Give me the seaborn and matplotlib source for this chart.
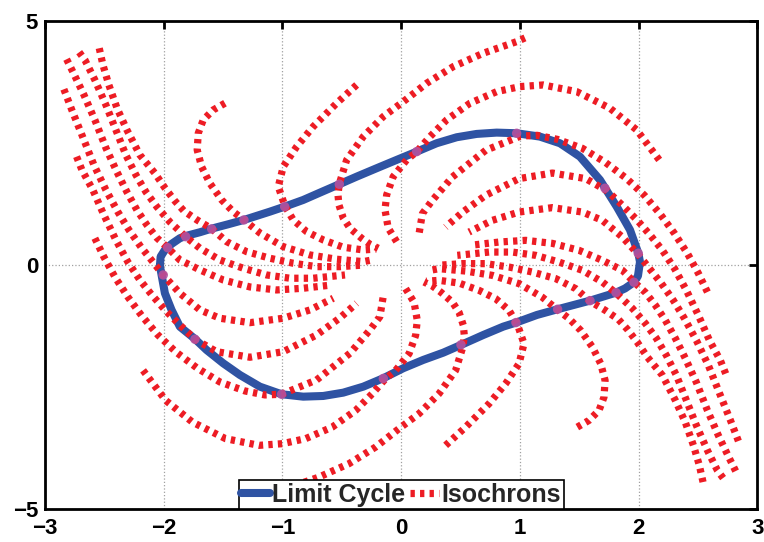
import matplotlib
matplotlib.use('Agg')
import matplotlib.pyplot as plt
import seaborn as sns
from matplotlib.lines import Line2D

# limit cycle (clockwise, closed)
cycle_x = [-2.032, -2.026, -1.990, -1.934, -1.864, -1.813, -1.695, -1.596, -1.460, -1.324,
           -1.105, -0.981, -0.825, -0.684, -0.521, -0.375, -0.206, -0.038, 0.131, 0.299,
           0.468, 0.636, 0.805, 0.973, 1.169, 1.338, 1.506, 1.675, 1.816, 1.928,
           1.998, 2.012, 1.995, 1.961, 1.886, 1.810, 1.591, 1.318, 1.144, 0.965,
           0.860, 0.692, 0.504, 0.355, 0.186, 0.018, -0.151, -0.319, -0.488, -0.656,
           -0.825, -1.007, -1.190, -1.358, -1.499, -1.639, -1.737, -1.864, -1.934, -1.990,
           -2.018, -2.032]
cycle_y = [-0.016, 0.174, 0.311, 0.434, 0.551, 0.598, 0.674, 0.748, 0.835, 0.926,
           1.096, 1.198, 1.335, 1.485, 1.657, 1.812, 1.985, 2.155, 2.324, 2.496,
           2.619, 2.687, 2.714, 2.701, 2.632, 2.496, 2.222, 1.745, 1.198, 0.721,
           0.244, 0.066, -0.221, -0.350, -0.477, -0.563, -0.727, -0.903, -1.020, -1.178,
           -1.259, -1.430, -1.634, -1.792, -1.941, -2.111, -2.316, -2.488, -2.611, -2.679,
           -2.693, -2.644, -2.488, -2.249, -2.009, -1.737, -1.511, -1.260, -0.917, -0.575,
           -0.201, -0.016]

# phase points where the isochrons meet the cycle
phase_x = [-1.967, -1.815, -1.596, -1.324, -0.981, -0.521, 0.131, 0.973, 1.717, 1.997,
           1.961, 1.810, 1.591, 1.318, 0.967, 0.504, -0.150, -1.007, -1.737, -2.004]
phase_y = [0.358, 0.583, 0.741, 0.926, 1.198, 1.657, 2.325, 2.700, 1.575, 0.244,
           -0.350, -0.563, -0.727, -0.903, -1.176, -1.630, -2.320, -2.644, -1.517, -0.201]

# isochrons
iso01_x = [-2.818, -2.765, -2.672, -2.580, -2.487, -2.394, -2.310, -2.226, -2.142, -2.057,
           -1.967, -1.864, -1.695, -1.499, -1.274, -1.049, -0.825, -0.583]
iso01_y = [4.217, 3.957, 3.486, 2.974, 2.400, 1.909, 1.499, 1.131, 0.823, 0.557,
           0.358, 0.106, -0.098, -0.303, -0.446, -0.508, -0.473, -0.406]
iso02_x = [-2.712, -2.664, -2.580, -2.487, -2.403, -2.319, -2.234, -2.150, -2.057, -1.948,
           -1.816, -1.695, -1.527, -1.330, -1.133, -0.937, -0.741, -0.473]
iso02_y = [4.360, 4.203, 3.793, 3.281, 2.769, 2.257, 1.847, 1.499, 1.192, 0.885,
           0.584, 0.346, 0.106, -0.063, -0.201, -0.268, -0.268, -0.201]
iso03_x = [-2.543, -2.512, -2.462, -2.394, -2.310, -2.201, -2.074, -1.990, -1.906, -1.830,
           -1.720, -1.597, -1.470, -1.302, -1.105, -0.909, -0.712, -0.516, -0.305]
iso03_y = [4.442, 4.100, 3.690, 3.219, 2.769, 2.257, 1.882, 1.581, 1.315, 1.110,
           0.926, 0.748, 0.481, 0.276, 0.141, 0.039, -0.031, -0.031, 0.004]
iso04_x = [-1.484, -1.583, -1.667, -1.709, -1.718, -1.681, -1.611, -1.512, -1.415, -1.324,
           -1.190, -0.993, -0.768, -0.543, -0.319, -0.246]
iso04_y = [3.316, 3.178, 2.974, 2.701, 2.359, 2.017, 1.677, 1.335, 1.096, 0.926,
           0.659, 0.379, 0.209, 0.121, 0.072, 0.106]
iso05_x = [-0.375, -0.543, -0.741, -0.880, -0.993, -1.035, -0.979, -0.909, -0.796, -0.656,
           -0.488, -0.319, -0.210]
iso05_y = [3.690, 3.316, 2.836, 2.427, 2.017, 1.608, 1.212, 0.926, 0.686, 0.516,
           0.367, 0.311, 0.330]
iso06_x = [1.043, 0.973, 0.692, 0.439, 0.215, 0.018, -0.151, -0.319, -0.459, -0.522,
           -0.532, -0.524, -0.488, -0.431, -0.333, -0.263, -0.193]
iso06_y = [4.653, 4.577, 4.340, 4.065, 3.725, 3.348, 3.041, 2.632, 2.154, 1.657,
           1.438, 1.233, 0.967, 0.756, 0.551, 0.428, 0.346]
iso07_x = [-0.038, -0.109, -0.136, -0.122, -0.067, 0.046, 0.131, 0.243, 0.383, 0.580,
           0.805, 1.001, 1.197, 1.479, 1.759, 1.984, 2.195]
iso07_y = [0.481, 0.762, 1.131, 1.438, 1.812, 2.154, 2.324, 2.632, 2.974, 3.316,
           3.553, 3.656, 3.690, 3.553, 3.213, 2.769, 2.087]
iso08_x = [2.580, 2.504, 2.411, 2.302, 2.184, 2.049, 1.897, 1.720, 1.527, 1.316,
           1.147, 1.007, 0.712, 0.431, 0.263, 0.179, 0.151]
iso08_y = [-0.551, -0.168, 0.242, 0.651, 1.040, 1.430, 1.778, 2.105, 2.392, 2.576,
           2.658, 2.644, 2.351, 1.804, 1.327, 1.055, 0.645]
iso09_x = [2.734, 2.689, 2.597, 2.504, 2.403, 2.302, 2.201, 2.100, 1.990, 1.864,
           1.737, 1.554, 1.274, 0.993, 0.712, 0.516, 0.375]
iso09_y = [-2.222, -1.950, -1.540, -1.028, -0.516, -0.066, 0.303, 0.610, 0.917, 1.225,
           1.518, 1.772, 1.886, 1.772, 1.430, 1.081, 0.780]
iso10_x = [2.841, 2.774, 2.689, 2.588, 2.487, 2.386, 2.293, 2.192, 2.091, 2.004,
           1.864, 1.695, 1.527, 1.274, 0.993, 0.768, 0.572]
iso10_y = [-3.602, -3.178, -2.666, -2.052, -1.540, -1.090, -0.721, -0.373, -0.066, 0.201,
           0.575, 0.917, 1.087, 1.178, 1.087, 0.917, 0.678]
iso11_x = [2.818, 2.765, 2.672, 2.580, 2.487, 2.394, 2.310, 2.226, 2.142, 2.057,
           1.967, 1.864, 1.695, 1.499, 1.274, 1.049, 0.825, 0.583]
iso11_y = [-4.217, -3.957, -3.486, -2.974, -2.400, -1.909, -1.499, -1.131, -0.823, -0.557,
           -0.358, -0.106, 0.098, 0.303, 0.446, 0.508, 0.473, 0.406]
iso12_x = [2.712, 2.664, 2.580, 2.487, 2.403, 2.319, 2.234, 2.150, 2.057, 1.948,
           1.816, 1.695, 1.527, 1.330, 1.133, 0.937, 0.741, 0.473]
iso12_y = [-4.360, -4.203, -3.793, -3.281, -2.769, -2.257, -1.847, -1.499, -1.192, -0.885,
           -0.584, -0.346, -0.106, 0.063, 0.201, 0.268, 0.268, 0.201]
iso13_x = [2.543, 2.512, 2.462, 2.394, 2.310, 2.201, 2.074, 1.990, 1.906, 1.830,
           1.720, 1.597, 1.470, 1.302, 1.105, 0.909, 0.712, 0.516, 0.305]
iso13_y = [-4.442, -4.100, -3.690, -3.219, -2.769, -2.257, -1.882, -1.581, -1.315, -1.110,
           -0.926, -0.748, -0.481, -0.276, -0.141, -0.039, 0.031, 0.031, -0.004]
iso14_x = [1.484, 1.583, 1.667, 1.709, 1.718, 1.681, 1.611, 1.512, 1.415, 1.324,
           1.190, 0.993, 0.768, 0.543, 0.319, 0.246]
iso14_y = [-3.316, -3.178, -2.974, -2.701, -2.359, -2.017, -1.677, -1.335, -1.096, -0.926,
           -0.659, -0.379, -0.209, -0.121, -0.072, -0.106]
iso15_x = [0.375, 0.543, 0.741, 0.880, 0.993, 1.035, 0.979, 0.909, 0.796, 0.656,
           0.488, 0.319, 0.210]
iso15_y = [-3.690, -3.316, -2.836, -2.427, -2.017, -1.608, -1.212, -0.926, -0.686, -0.516,
           -0.367, -0.311, -0.330]
iso16_x = [-1.043, -0.973, -0.692, -0.439, -0.215, -0.018, 0.151, 0.319, 0.459, 0.522,
           0.532, 0.524, 0.488, 0.431, 0.333, 0.263, 0.193]
iso16_y = [-4.653, -4.577, -4.340, -4.065, -3.725, -3.348, -3.041, -2.632, -2.154, -1.657,
           -1.438, -1.233, -0.967, -0.756, -0.551, -0.428, -0.346]
iso17_x = [0.038, 0.109, 0.136, 0.122, 0.067, -0.046, -0.131, -0.243, -0.383, -0.580,
           -0.805, -1.001, -1.197, -1.479, -1.759, -1.984, -2.195]
iso17_y = [-0.481, -0.762, -1.131, -1.438, -1.812, -2.154, -2.324, -2.632, -2.974, -3.316,
           -3.553, -3.656, -3.690, -3.553, -3.213, -2.769, -2.087]
iso18_x = [-2.580, -2.504, -2.411, -2.302, -2.184, -2.049, -1.897, -1.720, -1.527, -1.316,
           -1.147, -1.007, -0.712, -0.431, -0.263, -0.179, -0.151]
iso18_y = [0.551, 0.168, -0.242, -0.651, -1.040, -1.430, -1.778, -2.105, -2.392, -2.576,
           -2.658, -2.644, -2.351, -1.804, -1.327, -1.055, -0.645]
iso19_x = [-2.734, -2.689, -2.597, -2.504, -2.403, -2.302, -2.201, -2.100, -1.990, -1.864,
           -1.737, -1.554, -1.274, -0.993, -0.712, -0.516, -0.375]
iso19_y = [2.222, 1.950, 1.540, 1.028, 0.516, 0.066, -0.303, -0.610, -0.917, -1.225,
           -1.518, -1.772, -1.886, -1.772, -1.430, -1.081, -0.780]
iso20_x = [-2.841, -2.774, -2.689, -2.588, -2.487, -2.386, -2.293, -2.192, -2.091, -2.004,
           -1.864, -1.695, -1.527, -1.274, -0.993, -0.768, -0.572]
iso20_y = [3.602, 3.178, 2.666, 2.052, 1.540, 1.090, 0.721, 0.373, 0.066, -0.201,
           -0.575, -0.917, -1.087, -1.178, -1.087, -0.917, -0.678]

isochrons = [
    (iso01_x, iso01_y), (iso02_x, iso02_y), (iso03_x, iso03_y), (iso04_x, iso04_y),
    (iso05_x, iso05_y), (iso06_x, iso06_y), (iso07_x, iso07_y), (iso08_x, iso08_y),
    (iso09_x, iso09_y), (iso10_x, iso10_y), (iso11_x, iso11_y), (iso12_x, iso12_y),
    (iso13_x, iso13_y), (iso14_x, iso14_y), (iso15_x, iso15_y), (iso16_x, iso16_y),
    (iso17_x, iso17_y), (iso18_x, iso18_y), (iso19_x, iso19_y), (iso20_x, iso20_y),
]

blue = '#2F53A3'
red = '#ED1C24'
dots = (0, (0.6, 0.72))
iso_lw = 5.2

sns.set_theme(style='white')
plt.rcParams['font.family'] = ['Liberation Sans', 'DejaVu Sans']

fig = plt.figure(figsize=(7.64, 5.42), dpi=100)
ax = fig.add_axes([0.0589, 0.0603, 0.9323, 0.9010])

sns.lineplot(x=cycle_x, y=cycle_y, sort=False, estimator=None, color=blue,
             lw=5.8, solid_joinstyle='round', ax=ax, zorder=2, legend=False)

for xs, ys in isochrons:
    sns.lineplot(x=xs, y=ys, sort=False, estimator=None, color=red, lw=iso_lw,
                 linestyle=dots, dash_capstyle='butt', ax=ax, zorder=3, legend=False)

sns.scatterplot(x=phase_x, y=phase_y, color='#B4519E', s=46, edgecolor='none',
                alpha=0.9, ax=ax, zorder=4, legend=False)

ax.set_xlim(-3, 3)
ax.set_ylim(-5, 5)
ax.set_xticks(range(-3, 4))
ax.set_yticks([-5, 0, 5])
ax.set_axisbelow(True)
ax.grid(True, linestyle=':', color='#a0a0a0', lw=0.9)
ax.tick_params(direction='in', length=6, width=2, top=True, right=True,
               labelsize=16, colors='black')
ax.tick_params(axis='x', pad=6)
ax.tick_params(axis='y', pad=5)
for lab in ax.get_xticklabels() + ax.get_yticklabels():
    lab.set_fontweight('bold')
for sp in ax.spines.values():
    sp.set_color('black')
    sp.set_linewidth(2)
ax.set_xlabel('')
ax.set_ylabel('')

handles = [Line2D([], [], color=blue, lw=5.8),
           Line2D([], [], color=red, lw=iso_lw, linestyle=dots, dash_capstyle='butt')]
leg = ax.legend(handles, ['Limit Cycle', 'Isochrons'], loc='lower center',
                bbox_to_anchor=(0.5, 0), ncol=2, frameon=True, fancybox=False,
                framealpha=1, edgecolor='black', prop={'weight': 'bold', 'size': 18},
                handlelength=1.15, handletextpad=0.1, columnspacing=0.2,
                borderpad=0.1, borderaxespad=0)
leg.get_frame().set_linewidth(1.2)

fig.savefig('out.png', dpi=100)
